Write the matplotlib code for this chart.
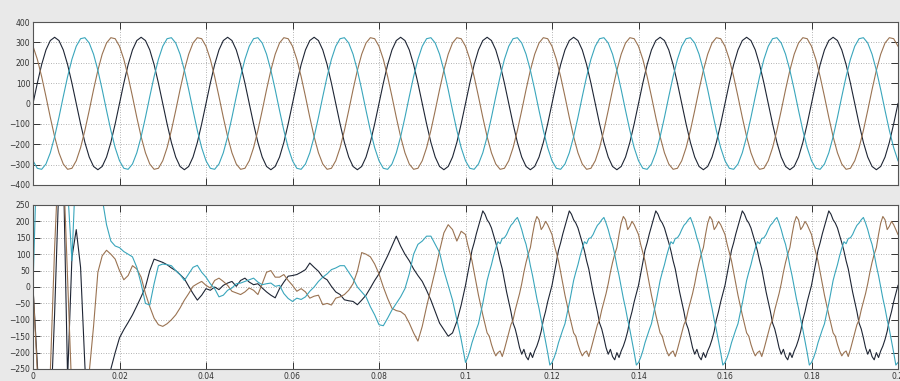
import numpy as np
import matplotlib.pyplot as plt

# ---- top panel: supply voltage, one 20 ms cycle sampled every 1 ms ----
v_dark = [0, 100, 191, 263, 309, 325, 309, 263, 191, 100,
          0, -100, -191, -263, -309, -325, -309, -263, -191, -100]
v_cyan = [-281, -318, -323, -297, -242, -163, -68, 34, 132, 217,
          281, 318, 323, 297, 242, 163, 68, -34, -132, -217]
v_brown = [281, 217, 132, 34, -68, -163, -242, -297, -323, -318,
           -281, -217, -132, -34, 68, 163, 242, 297, 323, 318]
n_cycles = 10

# ---- bottom panel: current, start-up 0..0.099 s every 1 ms ----
i_dark_start = [0, -230, -480, -560, -420, -80, 320, 380, -280, 90,
                175, 60, -240, -480, -600, -620, -520, -380, -250, -200,
                -155, -130, -108, -85, -58, -30, 0, 50, 85, 80,
                75, 68, 58, 50, 38, 25, 2, -20, -40, -25,
                -5, -10, 0, -8, 5, 12, 17, 2, 20, 27,
                15, 7, 10, -3, -15, -25, -33, -5, 15, 33,
                35, 38, 45, 53, 73, 60, 48, 30, 22, 2,
                -15, -23, -39, -42, -44, -54, -40, -25, -3, 20,
                40, 68, 95, 125, 155, 125, 100, 80, 55, 35,
                17, -10, -40, -75, -110, -130, -150, -140, -105, -55]
i_cyan_start = [0, 450, 650, 720, 700, 620, 520, 420, 300, 80,
                400, 480, 470, 430, 380, 320, 270, 190, 140, 125,
                120, 108, 100, 92, 60, 10, -50, -55, 10, 65,
                70, 68, 65, 50, 38, 20, 40, 60, 66, 45,
                30, 10, -5, -30, -25, -10, -3, 10, 12, 17,
                22, 27, 15, 7, 10, 12, 2, 5, -20, -35,
                -44, -34, -38, -30, -13, 0, 17, 30, 40, 53,
                58, 65, 65, 45, 25, 0, -15, -30, -60, -85,
                -115, -118, -95, -70, -50, -30, -5, 40, 100, 130,
                140, 155, 155, 130, 105, 50, 5, -40, -100, -160]
i_brown_start = [0, -260, -520, -500, -260, 120, 420, 380, 20, -330,
                 -600, -560, -420, -260, -120, 45, 95, 112, 100, 85,
                 50, 22, 35, 65, 55, 30, -20, -60, -95, -115,
                 -120, -112, -100, -85, -64, -40, -20, 2, 10, 17,
                 5, -3, 20, 27, 17, 5, -13, -18, -23, -15,
                 -3, -10, -23, 10, 45, 50, 30, 30, 38, 20,
                 5, -13, -5, -15, -34, -28, -25, -54, -50, -55,
                 -34, -30, -23, -10, 10, 48, 105, 100, 92, 70,
                 40, 0, -35, -65, -72, -75, -85, -110, -140, -165,
                 -120, -60, -5, 50, 110, 165, 190, 175, 140, 170]

# ---- bottom panel: steady state, one cycle every 0.5 ms, 0.1..0.2 s ----
i_dark_cycle = [5, 40, 75, 112, 135, 162, 185, 208, 232, 222,
                205, 195, 180, 158, 135, 110, 80, 55, 20, -15,
                -45, -75, -110, -128, -155, -185, -205, -190, -212, -222,
                -200, -215, -195, -180, -160, -135, -100, -75, -45, -20]
i_cyan_cycle = [-230, -215, -195, -170, -150, -130, -112, -80, -50, -15,
                20, 45, 68, 95, 118, 138, 132, 148, 150, 160,
                175, 188, 195, 205, 212, 195, 175, 150, 130, 100,
                65, 35, 0, -35, -65, -100, -130, -165, -200, -238]
i_brown_cycle = [160, 130, 105, 80, 45, 10, -25, -55, -85, -112,
                 -140, -150, -175, -195, -210, -200, -195, -212, -190, -165,
                 -140, -115, -100, -70, -45, -20, 10, 45, 75, 100,
                 120, 160, 195, 215, 205, 175, 185, 200, 190, 175]
n_ss_cycles = 5

c_dark = '#1e2534'
c_cyan = '#3aa6bc'
c_brown = '#9a7352'

# time bases
t_v = np.arange(20 * n_cycles + 1) * 0.001
t_start = np.arange(len(i_dark_start)) * 0.001
t_ss = 0.1 + np.arange(40 * n_ss_cycles + 1) * 0.0005
t_i = np.concatenate([t_start, t_ss])


def periodic(cycle, n):
    return np.append(np.tile(cycle, n), cycle[0])


def current(start, cycle):
    return np.concatenate([start, periodic(cycle, n_ss_cycles)])


fig = plt.figure(figsize=(9, 3.81), dpi=100, facecolor='#e9e9e9')
ax1 = fig.add_axes([33 / 900, 1 - 185 / 381, 865 / 900, 163 / 381])
ax2 = fig.add_axes([33 / 900, 1 - 369 / 381, 865 / 900, 164 / 381])

ax1.plot(t_v, periodic(v_dark, n_cycles), color=c_dark, lw=0.8)
ax1.plot(t_v, periodic(v_brown, n_cycles), color=c_brown, lw=0.8)
ax1.plot(t_v, periodic(v_cyan, n_cycles), color=c_cyan, lw=0.8)

ax2.plot(t_i, current(i_dark_start, i_dark_cycle), color=c_dark, lw=0.8)
ax2.plot(t_i, current(i_brown_start, i_brown_cycle), color=c_brown, lw=0.8)
ax2.plot(t_i, current(i_cyan_start, i_cyan_cycle), color=c_cyan, lw=0.8)

xt = np.arange(0, 0.2001, 0.02)
xlab = ['0'] + ['%g' % round(v, 2) for v in xt[1:]]

for ax, yl, yt in [(ax1, 400, np.arange(-400, 401, 100)),
                   (ax2, 250, np.arange(-250, 251, 50))]:
    ax.set_facecolor('white')
    ax.set_xlim(0, 0.2)
    ax.set_ylim(-yl, yl)
    ax.set_xticks(xt)
    ax.set_yticks(yt)
    ax.grid(True, color='#9a9a9a', lw=0.6, linestyle=(0, (1, 2)))
    ax.tick_params(direction='in', length=5, width=0.7, labelsize=5.5,
                   colors='#333333', pad=2, top=True, right=True)
    for s in ax.spines.values():
        s.set_color('#555555')
        s.set_linewidth(0.8)

ax1.set_xticklabels([])
ax2.set_xticklabels(xlab)

fig.savefig('out.png', dpi=100, facecolor=fig.get_facecolor())
